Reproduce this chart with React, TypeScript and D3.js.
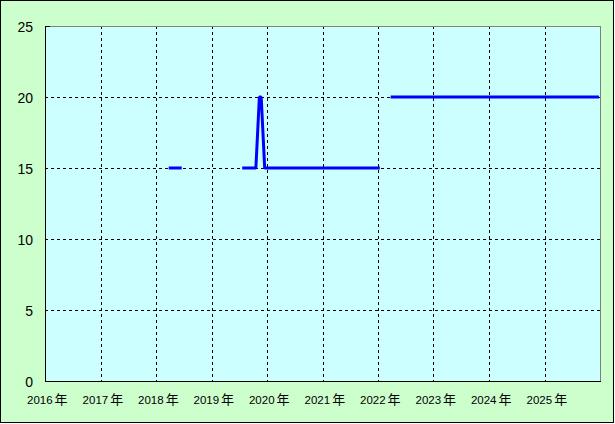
import React from "react";
import * as d3 from "d3";

const years = [2016, 2017, 2018, 2019, 2020, 2021, 2022, 2023, 2024, 2025];
const yTicks = [0, 5, 10, 15, 20, 25];

const seg1Dates = ["2018-03-25", "2018-06-19"];
const seg1Values = [15, 15];
const seg2Dates = ["2019-07-22", "2019-10-20", "2019-11-12", "2019-11-24", "2019-12-17", "2022-01-13"];
const seg2Values = [15, 15, 20, 20, 15, 15];
const seg3Dates = ["2022-03-25", "2025-12-25"];
const seg3Values = [20, 20];

const W = 615;
const H = 424;
const M = { left: 45, right: 600, top: 26, bottom: 381 };

export default function App() {
  const x = d3
    .scaleTime()
    .domain([new Date(2016, 0, 1), new Date(2026, 0, 1)])
    .range([M.left, M.right]);
  const y = d3.scaleLinear().domain([0, 25]).range([M.bottom, M.top]);
  const parse = d3.timeParse("%Y-%m-%d");
  const line = d3
    .line<[Date, number]>()
    .x((d) => x(d[0]))
    .y((d) => y(d[1]));
  const segs: [Date, number][][] = [
    seg1Dates.map((d, i) => [parse(d) as Date, seg1Values[i]]),
    seg2Dates.map((d, i) => [parse(d) as Date, seg2Values[i]]),
    seg3Dates.map((d, i) => [parse(d) as Date, seg3Values[i]]),
  ];
  const latin = "'Liberation Sans', Arial, sans-serif";
  const cjk = "'Noto Sans CJK JP', sans-serif";
  return (
    <div style={{ position: "fixed", left: 0, top: 0 }}>
      <svg width={W} height={H} style={{ display: "block" }}>
        <rect x={0.5} y={0.5} width={613} height={422} fill="#CCFFCC" stroke="#000" />
        <rect
          x={M.left}
          y={M.top}
          width={M.right - M.left}
          height={M.bottom - M.top}
          fill="#CCFFFF"
        />
        {yTicks
          .filter((t) => t > 0 && t < 25)
          .map((t) => (
            <line
              key={"gy" + t}
              x1={M.left}
              x2={M.right}
              y1={Math.round(y(t)) + 0.5}
              y2={Math.round(y(t)) + 0.5}
              stroke="#000"
              strokeDasharray="3,3"
            />
          ))}
        {years.slice(1).map((yr) => {
          const xx = Math.round(x(new Date(yr, 0, 1))) + 0.5;
          return (
            <line
              key={"gx" + yr}
              x1={xx}
              x2={xx}
              y1={M.top}
              y2={M.bottom}
              stroke="#000"
              strokeDasharray="3,3"
            />
          );
        })}
        <line x1={M.left} x2={M.right + 0.5} y1={M.top + 0.5} y2={M.top + 0.5} stroke="#808080" />
        <line x1={M.right + 0.5} x2={M.right + 0.5} y1={M.top} y2={M.bottom} stroke="#808080" />
        <line x1={M.left} x2={M.left + 5} y1={M.top + 0.5} y2={M.top + 0.5} stroke="#000" />
        <line x1={M.left + 0.5} x2={M.left + 0.5} y1={M.top} y2={M.bottom + 1} stroke="#000" />
        <line x1={M.left} x2={M.right + 1} y1={M.bottom + 0.5} y2={M.bottom + 0.5} stroke="#000" />
        {segs.map((s, i) => (
          <path
            key={"s" + i}
            d={line(s) || ""}
            fill="none"
            stroke="#0000FF"
            strokeWidth={3}
            strokeLinejoin="bevel"
          />
        ))}
        {yTicks.map((t) => (
          <text
            key={"yl" + t}
            x={33}
            y={y(t) + 1}
            textAnchor="end"
            dominantBaseline="central"
            fontFamily={latin}
            fontSize={14}
            fill="#000"
          >
            {t}
          </text>
        ))}
        {years.map((yr) => (
          <text
            key={"xl" + yr}
            x={x(new Date(yr, 0, 1)) - 18}
            y={404}
            textAnchor="start"
            fill="#000"
          >
            <tspan fontFamily={latin} fontSize={11.5}>
              {String(yr)}
            </tspan>
            <tspan fontFamily={cjk} fontSize={13} dx={2}>
              年
            </tspan>
          </text>
        ))}
      </svg>
    </div>
  );
}
